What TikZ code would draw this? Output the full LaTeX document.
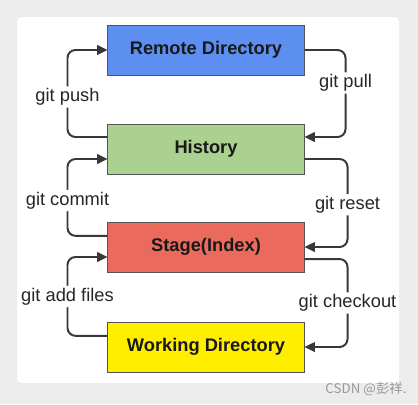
\documentclass[tikz,border=0pt]{standalone}
\usepackage{fontspec}
\setsansfont{Liberation Sans}
\newfontfamily\cjkfont{Noto Sans CJK SC}
\usetikzlibrary{arrows.meta}
\definecolor{remoteblue}{HTML}{5D8FF0}
\definecolor{historygreen}{HTML}{AAD18F}
\definecolor{stagered}{HTML}{EA6B5E}
\definecolor{workyellow}{HTML}{FFEE00}
\definecolor{boxgray}{HTML}{555555}
\definecolor{linegray}{HTML}{383838}
\definecolor{pagegray}{HTML}{ECECEC}
\definecolor{markgray}{HTML}{9A9A9A}

\begin{document}
\begin{tikzpicture}[x=0.025cm,y=-0.025cm,
  box/.style={draw=boxgray,line width=0.7pt,minimum width=4.9cm,minimum height=1.25cm,
    font=\sffamily\bfseries\fontsize{13}{15}\selectfont,text=black!90},
  flow/.style={draw=linegray,line width=1.4pt,rounded corners=0.2cm,
    -{Triangle[length=2.6mm,width=2.4mm]}},
  lbl/.style={fill=white,inner sep=1.5pt,font=\sffamily\fontsize{13}{15}\selectfont,text=black!85}]
  % page and panel
  \fill[pagegray] (0,0) rectangle (418,404);
  \fill[white,rounded corners=3] (17,17) rectangle (399,383);
  \useasboundingbox (0,0) rectangle (418,404);
  % the four areas
  \node[box,fill=remoteblue] (remote) at (206,50) {Remote Directory};
  \node[box,fill=historygreen] (history) at (206,149) {History};
  \node[box,fill=stagered] (stage) at (206,247) {Stage(Index)};
  \node[box,fill=workyellow] (working) at (206,347) {Working Directory};
  % left side, going up
  \draw[flow] ([yshift=0.3cm]history.west) -- ++(-40,0)
    |- node[lbl,pos=0.23] {git push} (remote.west);
  \draw[flow] ([yshift=0.28cm]stage.west) -- ++(-40,0)
    |- node[lbl,pos=0.23] {git commit} ([yshift=-0.25cm]history.west);
  \draw[flow] ([yshift=0.28cm]working.west) -- ++(-40,0)
    |- node[lbl,pos=0.25] {git add files} ([yshift=-0.25cm]stage.west);
  % right side, going down
  \draw[flow] (remote.east) -- ++(41,0)
    |- node[lbl,pos=0.19] {git pull} ([yshift=0.3cm]history.east);
  \draw[flow] ([yshift=-0.25cm]history.east) -- ++(43,0)
    |- node[lbl,pos=0.26] {git reset} (stage.east);
  \draw[flow] ([yshift=-0.3cm]stage.east) -- ++(43,0)
    |- node[lbl,pos=0.25] {git checkout} (working.east);
  % watermark
  \node[text=markgray,font=\cjkfont\fontsize{9.5}{11}\selectfont] (mark) at (366,389) {CSDN @彭祥.};
\end{tikzpicture}
\end{document}
